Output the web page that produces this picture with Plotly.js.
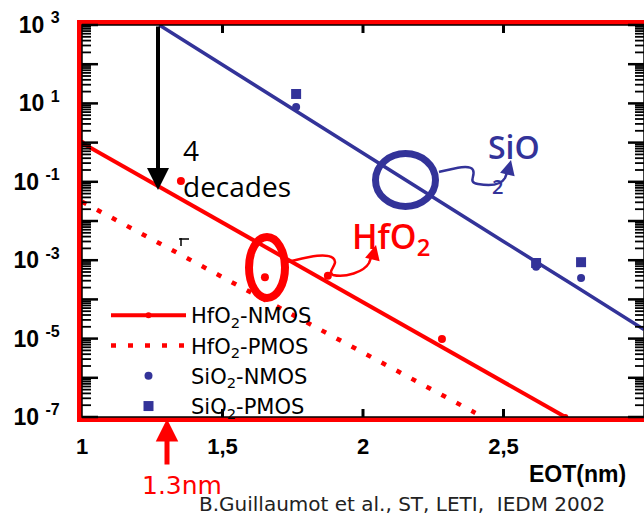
<!DOCTYPE html>
<html><head><meta charset="utf-8">
<script src="https://cdn.plot.ly/plotly-3.0.1.min.js"></script>
<style>html,body{margin:0;padding:0;background:#fff}#chart{width:644px;height:517px}</style>
</head><body><div id="chart"></div>
<script>
// ---- data (EOT in nm, gate leakage Jg) ----
const sio2FitEot = [1.275, 1.5, 1.75, 2.0, 2.25, 2.5, 2.75, 3.0];
const sio2FitJg  = [1000, 96, 7.2, 0.54, 0.041, 0.0030, 2.3e-4, 1.7e-5];
const hfNmosFitEot = [1.0, 2.72];
const hfNmosFitJg  = [0.98, 1.0e-7];
const hfPmosFitEot = [1.0, 1.5, 2.0, 2.4];
const hfPmosFitJg  = [0.031, 3.7e-4, 4.4e-6, 1.27e-7];
const hfMeasEot = [1.352, 1.651, 1.875, 2.281];
const hfMeasJg  = [0.105, 3.7e-4, 4.0e-4, 9.8e-6];
const sio2NmosEot = [1.762, 2.616, 2.776];
const sio2NmosJg  = [8.1, 6.8e-4, 3.5e-4];
const sio2PmosEot = [1.762, 2.616, 2.776];
const sio2PmosJg  = [17.4, 8.5e-4, 8.9e-4];
const xTickVals = [1, 1.5, 2, 2.5, 3];
const xTickText = ['1', '1,5', '2', '2,5', '3'];
const yExponents = [-7, -6, -5, -4, -3, -2, -1, 0, 1, 2, 3];
const seriesNames = ['HfO<sub>2</sub>-NMOS', 'HfO<sub>2</sub>-PMOS', 'SiO<sub>2</sub>-NMOS', 'SiO<sub>2</sub>-PMOS'];

// ---- styling ----
const RED = '#ff0000', BLUE = '#333399';
const L = 82, T = 25, W = 562, H = 392;
const X_RANGE = [1, 3], Y_RANGE_LOG = [-7, 3];
const P = x => (x - L) / W;          // pixel -> paper x (for decorations)
const Q = y => (T + H - y) / H;      // pixel -> paper y
const xFrac = v => (v - X_RANGE[0]) / (X_RANGE[1] - X_RANGE[0]);            // axis value -> paper
const yFrac = lg => (lg - Y_RANGE_LOG[0]) / (Y_RANGE_LOG[1] - Y_RANGE_LOG[0]); // log10 value -> paper

const yTickVals = yExponents.map(e => Math.pow(10, e));
const yTickText = yExponents.map(e => (e % 2 !== 0)
  ? '10 <sup><span style="font-size:16px">' + e + '</span></sup>\u00a0\u00a0' : '');

function pathPx(pts) { // pts: array of [cmd, x1,y1, x2,y2, ...] in pixels
  return pts.map(p => p[0] + p.slice(1).reduce((s, v, i) => s + (i ? ' ' : '') + (i % 2 ? Q(v) : P(v)), '')).join(' ');
}

// inside tick marks on all four sides, placed from the axes' ranges
const tickShapes = [];
function yTick(logv, len, w) {
  const f = yFrac(logv);
  [[0, len / W], [1 - len / W, 1]].forEach(([a, b]) => tickShapes.push(
    {type: 'line', xref: 'paper', yref: 'paper', x0: a, x1: b, y0: f, y1: f, line: {color: '#000', width: w}}));
}
yExponents.forEach((e, i) => {
  yTick(e, 16, 2.5);
  if (i < yExponents.length - 1) for (let k = 2; k <= 9; k++) yTick(e + Math.log10(k), 9, 1.8);
});
xTickVals.slice(1, -1).forEach(v => {
  const f = xFrac(v);
  [[0, 8 / H], [1 - 8 / H, 1]].forEach(([a, b]) => tickShapes.push(
    {type: 'line', xref: 'paper', yref: 'paper', x0: f, x1: f, y0: a, y1: b, line: {color: '#000', width: 3}}));
});

const traces = [
  {x: sio2FitEot, y: sio2FitJg, mode: 'lines', line: {color: BLUE, width: 3.5}, showlegend: false, hoverinfo: 'skip'},
  {x: hfNmosFitEot, y: hfNmosFitJg, mode: 'lines+markers', name: seriesNames[0],
   line: {color: RED, width: 4}, marker: {color: RED, size: 6, symbol: 'circle'}},
  {x: hfPmosFitEot, y: hfPmosFitJg, mode: 'lines', name: seriesNames[1],
   line: {color: RED, width: 4.5, dash: '5px,12px'}},
  {x: sio2NmosEot, y: sio2NmosJg, mode: 'markers', name: seriesNames[2],
   marker: {color: BLUE, size: 8, symbol: 'circle'}},
  {x: sio2PmosEot, y: sio2PmosJg, mode: 'markers', name: seriesNames[3],
   marker: {color: BLUE, size: 10, symbol: 'square'}},
  {x: hfMeasEot, y: hfMeasJg, mode: 'markers', showlegend: false,
   marker: {color: RED, size: 8, symbol: 'circle'}}
];

const layout = {
  width: 644, height: 517,
  margin: {l: L, r: 0, t: T, b: 517 - T - H},
  paper_bgcolor: '#fff', plot_bgcolor: '#fff',
  font: {family: 'Liberation Sans, Arial, sans-serif', color: '#000'},
  xaxis: {
    range: X_RANGE, tickmode: 'array', tickvals: xTickVals, ticktext: xTickText,
    ticks: 'outside', ticklen: 6, tickwidth: 1, tickcolor: 'rgba(0,0,0,0)',
    showline: true, linecolor: RED, linewidth: 5, mirror: true,
    showgrid: false, zeroline: false,
    tickfont: {family: 'Liberation Sans, Arial, sans-serif', size: 22, color: '#000', weight: 'bold'}
  },
  yaxis: {
    type: 'log', range: Y_RANGE_LOG, tickmode: 'array', tickvals: yTickVals, ticktext: yTickText,
    ticks: '', showline: true, linecolor: RED, linewidth: 5, mirror: true,
    showgrid: false, zeroline: false,
    tickfont: {family: 'Liberation Sans, Arial, sans-serif', size: 23, color: '#000', weight: 'bold'}
  },
  legend: {
    x: P(106), y: Q(295), xanchor: 'left', yanchor: 'top',
    bgcolor: 'rgba(0,0,0,0)', borderwidth: 0, itemwidth: 75,
    font: {family: 'DejaVu Sans, Verdana, sans-serif', size: 21, color: '#000'},
    tracegroupgap: 0
  },
  shapes: tickShapes.concat([
    {type: 'rect', xref: 'paper', yref: 'paper', x0: 0, x1: 1, y0: 0, y1: 1,
     line: {color: '#000', width: 1.5}},
    {type: 'circle', xref: 'paper', yref: 'paper', x0: P(375.5), x1: P(435.5), y0: Q(206.5), y1: Q(153.5),
     line: {color: BLUE, width: 7}},
    {type: 'circle', xref: 'paper', yref: 'paper', x0: P(249), x1: P(285), y0: Q(298), y1: Q(237),
     line: {color: RED, width: 8}},
    {type: 'path', xref: 'paper', yref: 'paper', line: {color: BLUE, width: 2.5},
     path: pathPx([['M', 439, 172], ['C', 455, 168, 470, 164, 473, 170], ['C', 476, 176, 467, 182, 478, 184],
                   ['C', 490, 186, 501, 185, 505, 178], ['L', 508, 170]])},
    {type: 'path', xref: 'paper', yref: 'paper', line: {color: RED, width: 2.5},
     path: pathPx([['M', 287, 262], ['C', 305, 258, 325, 252, 333, 258], ['C', 340, 264, 326, 271, 333, 275],
                   ['C', 345, 278, 364, 272, 369, 263], ['L', 372, 255]])},
    {type: 'path', xref: 'paper', yref: 'paper', line: {color: '#000', width: 1.5},
     path: pathPx([['M', 179, 239], ['L', 189, 239], ['M', 181, 238], ['L', 181, 246]])}
  ]),
  annotations: [
    {xref: 'paper', yref: 'paper', x: P(158), y: Q(190), ax: 0, ay: -165, text: '', showarrow: true,
     arrowcolor: '#000', arrowwidth: 4, arrowhead: 2, arrowsize: 1.1},
    {xref: 'paper', yref: 'paper', x: P(167), y: Q(419), ax: 0, ay: 47, text: '', showarrow: true,
     arrowcolor: RED, arrowwidth: 5, arrowhead: 2, arrowsize: 0.9},
    {xref: 'paper', yref: 'paper', x: P(511), y: Q(160), ax: -3, ay: 12, text: '', showarrow: true,
     arrowcolor: BLUE, arrowwidth: 2.5, arrowhead: 2, arrowsize: 1.2},
    {xref: 'paper', yref: 'paper', x: P(376), y: Q(245), ax: -3, ay: 12, text: '', showarrow: true,
     arrowcolor: RED, arrowwidth: 2.5, arrowhead: 2, arrowsize: 1.2},
    {xref: 'paper', yref: 'paper', x: P(181), y: Q(168), xanchor: 'left', yanchor: 'middle', align: 'left',
     text: '4<br>decades', showarrow: false,
     font: {family: 'Open Sans, sans-serif', size: 28, color: '#000'}},
    {xref: 'paper', yref: 'paper', x: P(486), y: Q(146), xanchor: 'left', yanchor: 'middle',
     text: 'SiO', showarrow: false,
     font: {family: 'Open Sans, sans-serif', size: 32, color: BLUE, weight: 600}},
    {xref: 'paper', yref: 'paper', x: P(497), y: Q(186), xanchor: 'center', yanchor: 'middle',
     text: '2', showarrow: false,
     font: {family: 'Open Sans, sans-serif', size: 20, color: BLUE, weight: 600}},
    {xref: 'paper', yref: 'paper', x: P(350), y: Q(238), xanchor: 'left', yanchor: 'middle',
     text: 'HfO<sub>2</sub>', showarrow: false,
     font: {family: 'Open Sans, sans-serif', size: 34, color: RED, weight: 600}},
    {xref: 'paper', yref: 'paper', x: P(182), y: Q(485), xanchor: 'center', yanchor: 'middle',
     text: '1.3nm', showarrow: false,
     font: {family: 'DejaVu Sans, sans-serif', size: 25, color: RED}},
    {xref: 'paper', yref: 'paper', x: P(628), y: Q(474), xanchor: 'right', yanchor: 'middle',
     text: 'EOT(nm)', showarrow: false,
     font: {family: 'Liberation Sans, Arial, sans-serif', size: 23, color: '#000', weight: 'bold'}},
    {xref: 'paper', yref: 'paper', x: P(402), y: Q(504), xanchor: 'center', yanchor: 'middle',
     text: 'B.Guillaumot et al., ST, LETI, &nbsp;IEDM 2002', showarrow: false,
     font: {family: 'DejaVu Sans, Verdana, sans-serif', size: 20, color: '#222'}}
  ]
};

Plotly.newPlot('chart', traces, layout, {displayModeBar: false, staticPlot: true});
</script></body></html>
